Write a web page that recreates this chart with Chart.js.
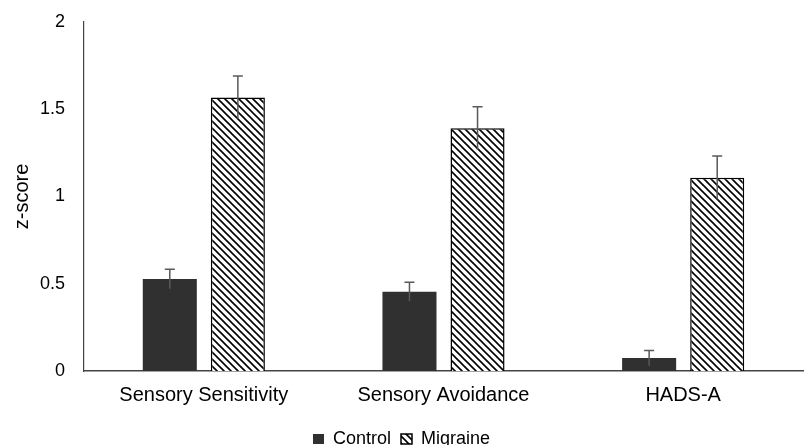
<!DOCTYPE html>
<html>
<head>
<meta charset="utf-8">
<script src="https://cdn.jsdelivr.net/npm/chart.js@4.4.1/dist/chart.umd.min.js"></script>
<style>
  body { margin: 0; background: #fff; }
  #wrap { width: 805px; height: 445px; }
</style>
</head>
<body>
<div id="wrap"><canvas id="zscore" width="805" height="445"></canvas></div>
<script>
  // data
  const categories = ['Sensory Sensitivity', 'Sensory Avoidance', 'HADS-A'];
  const controlVals = [0.527, 0.454, 0.074];
  const controlErr = [0.056, 0.054, 0.044];
  const migraineVals = [1.568, 1.391, 1.108];
  const migraineErr = [0.122, 0.124, 0.124];
  const yTicks = [0, 0.5, 1, 1.5, 2];

  const fontFam = '"Liberation Sans", Arial, Helvetica, sans-serif';
  Chart.defaults.font.family = fontFam;
  Chart.defaults.color = '#000';

  // diagonal hatch for the migraine bars
  function hatch() {
    const c = document.createElement('canvas');
    const s = 7;
    c.width = s; c.height = s;
    const g = c.getContext('2d');
    g.fillStyle = '#fff';
    g.fillRect(0, 0, s, s);
    g.strokeStyle = '#000';
    g.lineWidth = 1.6;
    g.beginPath();
    g.moveTo(-1, -1); g.lineTo(s + 1, s + 1);
    g.moveTo(-1, s - 1); g.lineTo(1, s + 1);
    g.moveTo(s - 1, -1); g.lineTo(s + 1, 1);
    g.stroke();
    return g.createPattern(c, 'repeat');
  }

  // error bars (+/-) drawn through the y scale
  const errorBars = {
    id: 'errorBars',
    afterDatasetsDraw(chart) {
      const ctx = chart.ctx;
      const y = chart.scales.y;
      ctx.save();
      ctx.strokeStyle = '#595959';
      ctx.lineWidth = 1.5;
      chart.data.datasets.forEach((ds, di) => {
        const meta = chart.getDatasetMeta(di);
        meta.data.forEach((bar, i) => {
          const v = ds.data[i], e = ds.errors[i];
          const top = y.getPixelForValue(v + e);
          const bot = y.getPixelForValue(v - e);
          ctx.beginPath();
          ctx.moveTo(bar.x, top); ctx.lineTo(bar.x, bot);
          ctx.moveTo(bar.x - 5, top); ctx.lineTo(bar.x + 5, top);
          ctx.stroke();
        });
      });
      ctx.restore();
    }
  };

  new Chart(document.getElementById('zscore'), {
    type: 'bar',
    data: {
      labels: categories,
      datasets: [{
        label: 'Control',
        data: controlVals,
        errors: controlErr,
        backgroundColor: '#303030',
        borderWidth: 0
      }, {
        label: 'Migraine',
        data: migraineVals,
        errors: migraineErr,
        backgroundColor: hatch(),
        borderColor: '#000',
        borderWidth: 1.5
      }]
    },
    options: {
      responsive: false,
      animation: false,
      categoryPercentage: 0.568,
      barPercentage: 0.794,
      // negative bottom padding pulls the legend down near the edge
      layout: { padding: { top: 22, right: 2, bottom: -13, left: 0 } },
      plugins: {
        tooltip: { enabled: false },
        legend: {
          position: 'bottom',
          labels: {
            boxWidth: 11,
            boxHeight: 10,
            padding: 10,
            font: { size: 18 },
            color: '#000'
          }
        }
      },
      scales: {
        x: {
          grid: { display: false, drawTicks: false },
          border: { display: true, color: '#444', width: 1.5 },
          ticks: { padding: 12, font: { size: 20 }, color: '#000' },
          afterFit(s) { s.height = 49; }
        },
        y: {
          min: 0,
          max: 2,
          afterBuildTicks(s) { s.ticks = yTicks.map(v => ({ value: v })); },
          grid: { display: false, drawTicks: false },
          border: { display: true, color: '#444', width: 1.2 },
          ticks: {
            padding: 19,
            font: { size: 18 },
            color: '#000',
            callback: v => String(v)
          },
          title: {
            display: true,
            text: 'z-score',
            font: { size: 20 },
            color: '#000',
            padding: { top: 10, bottom: 0 }
          },
          afterFit(s) {
            s.width = 84;
            // tick padding would otherwise push the top of the axis down
            s.paddingTop = 10;
            s.paddingBottom = 10;
          }
        }
      }
    },
    plugins: [errorBars]
  });
</script>
</body>
</html>
